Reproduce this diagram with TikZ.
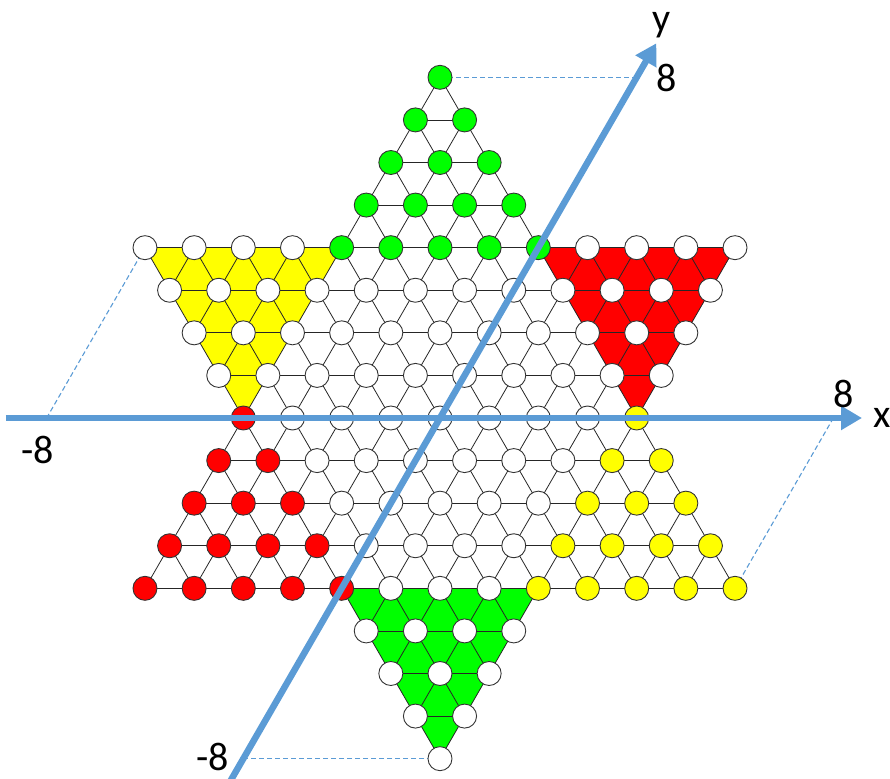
\documentclass[tikz,border=0pt]{standalone}
\usepackage{fontspec}
\setmainfont{Carlito}
\usetikzlibrary{arrows.meta}
\definecolor{axisblue}{RGB}{91,155,213}
\definecolor{cgreen}{RGB}{0,255,0}
\definecolor{cred}{RGB}{255,0,0}
\definecolor{cyellow}{RGB}{255,255,0}
\newcommand\instar[3]{\pgfmathtruncatemacro#1{(((#2)>=-4)&&((#3)>=-4)&&((#2)+(#3)<=4))||(((#2)<=4)&&((#3)<=4)&&((#2)+(#3)>=-4))}}
\begin{document}
\begin{tikzpicture}[x={(49.17pt,0pt)}, y={(24.585pt,42.583pt)},
  hole/.style={circle, draw=black!80, line width=0.9pt, minimum size=24pt, inner sep=0pt},
  gridline/.style={line width=0.8pt, black!85},
  axisarrow/.style={axisblue, line width=6.5pt, -{Triangle[length=21pt,width=23pt]}},
  guide/.style={axisblue, line width=1.1pt, dash pattern=on 5pt off 3pt},
  lbl/.style={font=\fontsize{40}{44}\selectfont, inner sep=0pt}]
\useasboundingbox (-440pt,-360pt) rectangle (450pt,418pt);
\clip (-440pt,-360pt) rectangle (450pt,418pt);
% hole positions
\foreach \a in {-8,...,8}{
  \foreach \b in {-8,...,8}{
    \instar\ins{\a}{\b}
    \ifnum\ins=1
      \pgfmathtruncatemacro\ia{\a+10}\pgfmathtruncatemacro\ib{\b+10}
      \coordinate (h\ia-\ib) at (\a,\b);
    \fi
  }
}
% coloured corner fills
\fill[cyellow] (h2-14) -- (h6-14) -- (h6-10) -- cycle;
\fill[cred] (h10-14) -- (h14-14) -- (h14-10) -- cycle;
\fill[cgreen] (h10-6) -- (h14-6) -- (h14-2) -- cycle;
% lattice lines
\foreach \a in {-8,...,8}{
  \foreach \b in {-8,...,8}{
    \instar\ins{\a}{\b}
    \ifnum\ins=1
      \pgfmathtruncatemacro\ia{\a+10}\pgfmathtruncatemacro\ib{\b+10}
      \pgfmathtruncatemacro\ja{\a+11}\pgfmathtruncatemacro\jb{\b+11}
      \pgfmathtruncatemacro\ka{\a+9}
      \instar\nA{\a+1}{\b}
      \ifnum\nA=1 \draw[gridline] (h\ia-\ib) -- (h\ja-\ib); \fi
      \instar\nB{\a}{\b+1}
      \ifnum\nB=1 \draw[gridline] (h\ia-\ib) -- (h\ia-\jb); \fi
      \instar\nC{\a-1}{\b+1}
      \ifnum\nC=1 \draw[gridline] (h\ia-\ib) -- (h\ka-\jb); \fi
    \fi
  }
}
% axis points and guide lines
\coordinate (ya8) at (0,8);
\coordinate (xa8) at (8,0);
\coordinate (xam8) at (-8,0);
\coordinate (yam8) at (0,-8);
\draw[guide] (h6-18) -- (ya8);
\draw[guide] (h18-6) -- (xa8);
\draw[guide] (h2-14) -- (xam8);
\draw[guide] (h14-2) -- (yam8);
% holes
\foreach \a in {-8,...,8}{
  \foreach \b in {-8,...,8}{
    \instar\ins{\a}{\b}
    \ifnum\ins=1
      \pgfmathtruncatemacro\ia{\a+10}\pgfmathtruncatemacro\ib{\b+10}
      \pgfmathtruncatemacro\cg{(\a>=-4)&&(\b>=4)&&(\a+\b<=4)}
      \pgfmathtruncatemacro\cr{(\a>=-4)&&(\b>=-4)&&(\a+\b<=-4)}
      \pgfmathtruncatemacro\cy{(\a>=4)&&(\b>=-4)&&(\a+\b<=4)}
      \def\col{white}
      \ifnum\cg=1 \def\col{cgreen}\fi
      \ifnum\cr=1 \def\col{cred}\fi
      \ifnum\cy=1 \def\col{cyellow}\fi
      \node[hole, fill=\col] (n\ia-\ib) at (h\ia-\ib) {};
    \fi
  }
}
% axes
\coordinate (xs) at (-434pt,0pt);
\coordinate (xe) at (422pt,0pt);
\coordinate (ys) at (0,-9);
\coordinate (ye) at (0,8.8);
\draw[axisarrow] (xs) -- (xe);
\draw[axisarrow] (ys) -- (ye);
% labels
\node[lbl] (ly) at (222pt,393pt) {y};
\node[lbl] (ly8) at (227pt,340.5pt) {8};
\node[lbl] (lx8) at (404pt,24.5pt) {8};
\node[lbl] (lx) at (442pt,0.5pt) {x};
\node[lbl] (lxm8) at (-402.5pt,-31.5pt) {-8};
\node[lbl] (lym8) at (-227pt,-338.5pt) {-8};
\end{tikzpicture}
\end{document}
